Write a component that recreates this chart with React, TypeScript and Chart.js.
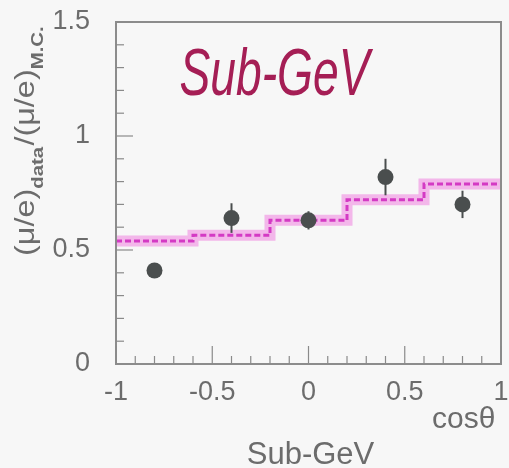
import React, { useEffect, useRef } from 'react';
import { Chart, registerables } from 'chart.js';

Chart.register(...registerables);

// MC expectation histogram (bin edges in cos(theta), ratio per bin)
const binEdges = [-1, -0.6, -0.2, 0.2, 0.6, 1];
const mcRatio = [0.54, 0.565, 0.63, 0.72, 0.79];
// Data points
const dataCos = [-0.8, -0.4, 0, 0.4, 0.8];
const dataRatio = [0.41, 0.64, 0.63, 0.82, 0.7];
const dataErr = [0.03, 0.065, 0.04, 0.08, 0.06];
// Axis ticks
const xTicks = [-1, -0.5, 0, 0.5, 1];
const yTicks = [0, 0.5, 1, 1.5];
const xMinorStep = 0.1;
const yMinorStep = 0.1;

const GREY = '#6c6c6c';
const FONT = 'Liberation Sans, Arial, sans-serif';

export default function App() {
  const ref = useRef<HTMLCanvasElement | null>(null);

  useEffect(() => {
    document.body.style.margin = '0';
    const canvas = ref.current!;
    const stepData = binEdges.map((e, i) => ({ x: e, y: mcRatio[Math.min(i, mcRatio.length - 1)] }));
    const points = dataCos.map((c, i) => ({ x: c, y: dataRatio[i] }));

    const decor = {
      id: 'decor',
      beforeDraw(chart: any) {
        const ctx = chart.ctx;
        ctx.save();
        ctx.fillStyle = '#f7f7f7';
        ctx.fillRect(0, 0, chart.width, chart.height);
        ctx.restore();
      },
      afterDatasetsDraw(chart: any) {
        const ctx = chart.ctx;
        const xs = chart.scales.x;
        const ys = chart.scales.y;
        ctx.save();
        ctx.strokeStyle = '#4a4e4e';
        ctx.lineWidth = 2;
        dataCos.forEach((c, i) => {
          const px = xs.getPixelForValue(c);
          ctx.beginPath();
          ctx.moveTo(px, ys.getPixelForValue(dataRatio[i] - dataErr[i]));
          ctx.lineTo(px, ys.getPixelForValue(dataRatio[i] + dataErr[i]));
          ctx.stroke();
        });
        ctx.restore();
      },
      afterDraw(chart: any) {
        const ctx = chart.ctx;
        const a = chart.chartArea;
        const xs = chart.scales.x;
        const ys = chart.scales.y;
        ctx.save();
        // frame
        ctx.strokeStyle = '#8c8c8c';
        ctx.lineWidth = 2;
        ctx.strokeRect(a.left, a.top, a.right - a.left, a.bottom - a.top);
        // inner ticks
        ctx.lineWidth = 1.2;
        ctx.strokeStyle = '#8a8a8a';
        for (let k = 0; k <= Math.round((xs.max - xs.min) / xMinorStep); k++) {
          const v = xs.min + k * xMinorStep;
          const major = Math.abs(v / 0.5 - Math.round(v / 0.5)) < 1e-6;
          const px = xs.getPixelForValue(v);
          ctx.beginPath();
          ctx.moveTo(px, a.bottom);
          ctx.lineTo(px, a.bottom - (major ? 18 : 8));
          ctx.stroke();
        }
        for (let k = 0; k <= Math.round((ys.max - ys.min) / yMinorStep); k++) {
          const v = ys.min + k * yMinorStep;
          const major = Math.abs(v / 0.5 - Math.round(v / 0.5)) < 1e-6;
          const py = ys.getPixelForValue(v);
          ctx.beginPath();
          ctx.moveTo(a.left, py);
          ctx.lineTo(a.left + (major ? 17 : 8), py);
          ctx.stroke();
        }
        // handwritten label
        ctx.fillStyle = 'rgb(165,30,85)';
        ctx.font = `italic 66px ${FONT}`;
        const label = 'Sub-GeV';
        const w = ctx.measureText(label).width;
        const targetW = 190;
        ctx.save();
        ctx.translate(xs.getPixelForValue(-0.67), ys.getPixelForValue(1.18));
        ctx.scale(targetW / w, 1);
        ctx.textAlign = 'left';
        ctx.textBaseline = 'alphabetic';
        ctx.fillText(label, 0, 0);
        ctx.restore();
        // x axis titles
        ctx.fillStyle = GREY;
        ctx.font = `30px ${FONT}`;
        ctx.textAlign = 'left';
        ctx.textBaseline = 'alphabetic';
        ctx.fillText('cos\u03b8', 432, 428);
        ctx.font = `31px ${FONT}`;
        ctx.textAlign = 'center';
        ctx.fillText('Sub-GeV', (a.left + a.right) / 2 + 2, 464);
        // y axis title with subscripts
        ctx.save();
        ctx.translate(34, 256);
        ctx.rotate(-Math.PI / 2);
        ctx.scale(1.2, 1);
        ctx.textAlign = 'left';
        const parts: [string, boolean][] = [
          ['(\u03bc/e)', false],
          ['data', true],
          ['/(\u03bc/e)', false],
          ['M.C.', true],
        ];
        let x = 0;
        for (const [t, sub] of parts) {
          ctx.font = sub ? `bold 17px ${FONT}` : `27px ${FONT}`;
          ctx.fillText(t, x, sub ? 9 : 0);
          x += ctx.measureText(t).width + (sub ? 1 : 0);
        }
        ctx.restore();
        ctx.restore();
      },
    };

    const chart = new Chart(canvas, {
      type: 'line',
      data: {
        datasets: [
          {
            label: 'data',
            data: points,
            showLine: false,
            pointRadius: 8,
            pointBackgroundColor: '#4a4e4e',
            pointBorderWidth: 0,
            borderColor: '#4a4e4e',
          },
          {
            label: 'MC center',
            data: stepData,
            stepped: 'before',
            borderColor: 'rgb(212,58,196)',
            borderWidth: 3,
            borderDash: [6, 3],
            pointRadius: 0,
            fill: false,
          },
          {
            label: 'MC band',
            data: stepData,
            stepped: 'before',
            borderColor: 'rgba(240,140,225,0.6)',
            borderWidth: 11,
            pointRadius: 0,
            fill: false,
          },
        ],
      },
      options: {
        responsive: false,
        animation: false,
        events: [],
        layout: { padding: { top: 22, right: 3, left: 0, bottom: 0 } },
        plugins: { legend: { display: false }, tooltip: { enabled: false }, title: { display: false } },
        scales: {
          x: {
            type: 'linear',
            min: -1,
            max: 1,
            afterBuildTicks: (s: any) => {
              s.ticks = xTicks.map((v) => ({ value: v }));
            },
            afterFit: (s: any) => {
              s.height = 104;
              s.paddingLeft = 0;
              s.paddingRight = 0;
            },
            grid: { display: false, drawTicks: false },
            border: { display: false },
            ticks: {
              padding: 12,
              autoSkip: false,
              maxRotation: 0,
              color: GREY,
              font: { family: FONT, size: 27 },
              callback: (v: any) => String(v),
            },
          },
          y: {
            type: 'linear',
            min: 0,
            max: 1.5,
            afterBuildTicks: (s: any) => {
              s.ticks = yTicks.map((v) => ({ value: v }));
            },
            afterFit: (s: any) => {
              s.width = 116;
              s.paddingTop = 0;
              s.paddingBottom = 0;
            },
            grid: { display: false, drawTicks: false },
            border: { display: false },
            ticks: {
              padding: 26,
              autoSkip: false,
              color: GREY,
              font: { family: FONT, size: 27 },
              callback: (v: any) => String(v),
            },
          },
        },
      },
      plugins: [decor],
    });
    return () => chart.destroy();
  }, []);

  return <canvas ref={ref} width={509} height={468} style={{ display: 'block' }} />;
}
